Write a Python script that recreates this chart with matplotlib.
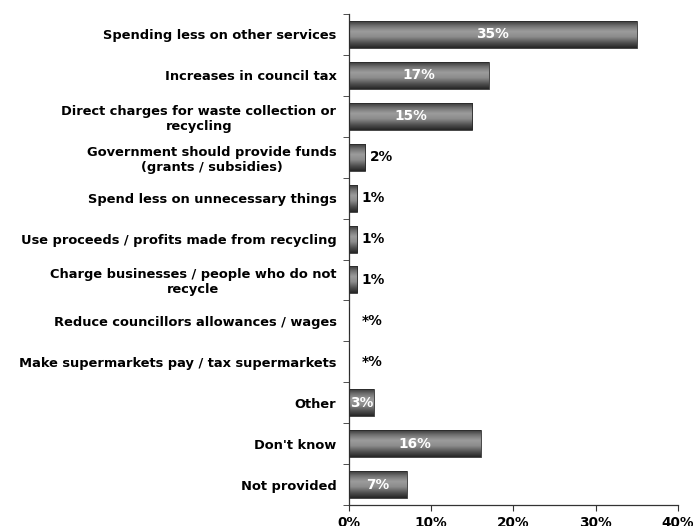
import numpy as np
from matplotlib import pyplot as plt
from matplotlib.colors import LinearSegmentedColormap

categories = [
    "Spending less on other services",
    "Increases in council tax",
    "Direct charges for waste collection or\nrecycling",
    "Government should provide funds\n(grants / subsidies)",
    "Spend less on unnecessary things",
    "Use proceeds / profits made from recycling",
    "Charge businesses / people who do not\nrecycle",
    "Reduce councillors allowances / wages",
    "Make supermarkets pay / tax supermarkets",
    "Other",
    "Don't know",
    "Not provided",
]
values = [35, 17, 15, 2, 1, 1, 1, 0, 0, 3, 16, 7]
labels = ["35%", "17%", "15%", "2%", "1%", "1%", "1%", "*%", "*%", "3%", "16%", "7%"]
inside = [True, True, True, False, False, False, False, False, False, True, True, True]
xticks = [0, 10, 20, 30, 40]

fig = plt.figure(figsize=(6.93, 5.26), dpi=100)
ax = fig.add_axes([0.5036, 0.0399, 0.4747, 0.9335])

y = np.arange(len(categories))
h = 0.66
bars = ax.barh(y, values, height=h, color="none", edgecolor="#2a2a2a", linewidth=0.6, zorder=3)

# shaded fill: dark at the top and bottom edges, light through the middle
shade = LinearSegmentedColormap.from_list("shade", ["#2e2e2e", "#707070", "#9c9c9c", "#8c8c8c", "#555555", "#262626"])
grad = np.linspace(0, 1, 64).reshape(-1, 1)
for b, v, yy in zip(bars, values, y):
    if v <= 0:
        continue
    im = ax.imshow(grad, cmap=shade, aspect="auto", extent=(0, v, yy + h / 2, yy - h / 2),
                   zorder=2, interpolation="bilinear")
    im.set_clip_path(b)

for v, yy, lab, ins in zip(values, y, labels, inside):
    if ins:
        ax.text(v / 2, yy, lab, ha="center", va="center", color="white",
                fontsize=9.8, fontweight="bold", zorder=4)
    else:
        off = 0.5 if v > 0 else 1.5
        ax.text(v + off, yy, lab, ha="left", va="center", color="black",
                fontsize=9.8, fontweight="bold", zorder=4)

ax.set_xlim(0, 40)
ax.set_ylim(len(categories) - 0.5, -0.5)
ax.set_xticks(xticks)
ax.set_xticklabels([f"{t}%" for t in xticks], fontsize=9.8, fontweight="bold")
ax.set_yticks(y)
ax.set_yticklabels(categories, fontsize=9.4, fontweight="bold", multialignment="center")
ax.set_yticks(np.arange(len(categories) + 1) - 0.5, minor=True)
ax.tick_params(axis="y", which="major", length=0, pad=9)
ax.tick_params(axis="y", which="minor", length=4, direction="out", color="#333333")
ax.tick_params(axis="x", length=4, direction="out", color="#333333", pad=4)

for s in ["top", "right"]:
    ax.spines[s].set_visible(False)
for s in ["left", "bottom"]:
    ax.spines[s].set_color("#333333")
    ax.spines[s].set_linewidth(0.9)

fig.savefig("out.png", dpi=100)
